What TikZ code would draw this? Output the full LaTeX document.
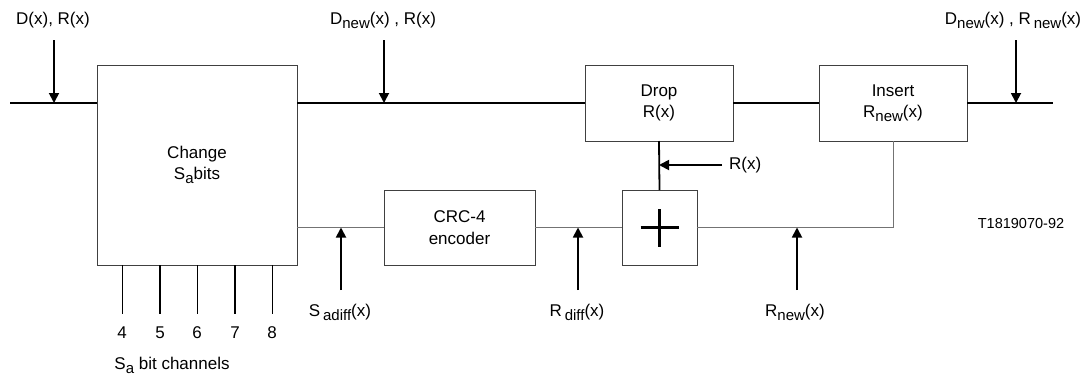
\documentclass[tikz,border=0pt]{standalone}
\usepackage{fontspec}
\setmainfont{Liberation Sans}
\usetikzlibrary{arrows.meta}
\newcommand\lowr[1]{\raisebox{-0.45ex}{\fontsize{15}{15}\selectfont #1}}
\begin{document}
\begin{tikzpicture}[x=1pt,y=-1pt,
    font=\fontsize{17}{21.5}\selectfont,
    blk/.style={draw=black!75,line width=0.9pt,inner sep=0pt,outer sep=0pt,align=center},
    mainln/.style={line width=1.8pt},
    thinln/.style={line width=0.9pt,black!55},
    sig/.style={line width=1.8pt,-{Triangle[length=10pt,width=10pt]}},
    lbl/.style={inner sep=0pt}]
    \useasboundingbox (0,0) rectangle (1089,376);
    % Blocks
    \node[blk,minimum width=200pt,minimum height=200pt] (change) at (197,165) {Change\\S\lowr{a}bits};
    \node[blk,minimum width=148pt,minimum height=76pt] (drop) at (659,103) {Drop\\R(x)};
    \node[blk,minimum width=148pt,minimum height=76pt] (insert) at (893,103) {Insert\\R\lowr{new}(x)};
    \node[blk,minimum width=151pt,minimum height=75pt] (crc) at (459.5,227.5) {CRC-4\\encoder};
    \node[blk,minimum width=75pt,minimum height=75pt] (plus) at (659.5,227.5) {};
    \draw[line width=3pt] ([xshift=-19pt]plus.center) -- ([xshift=19pt]plus.center)
        ([yshift=-19pt]plus.center) -- ([yshift=19pt]plus.center);
    % Main path
    \coordinate (in) at (10,103);
    \coordinate (out) at (1053,103);
    \draw[mainln] (in) -- (in -| change.west) (in -| change.east) -- (drop.west)
        (drop.east) -- (insert.west) (insert.east) -- (out);
    % Lower path
    \draw[thinln] (crc.west -| change.east) -- (crc.west) (crc.east) -- (plus.west)
        (plus.east) -| (insert.south);
    \draw[mainln] (drop.south) -- (plus.north);
    % Labels and arrows on main path
    \node[lbl] (dr) at (53,20) {D(x), R(x)};
    \coordinate (drtail) at (54,40);
    \draw[sig] (drtail) -- (drtail |- in);
    \node[lbl] (dnr) at (383,20) {D\lowr{new}(x) , R(x)};
    \coordinate (dnrtail) at (384,40);
    \draw[sig] (dnrtail) -- (dnrtail |- in);
    \node[lbl] (dnrn) at (1013,20) {D\lowr{new}(x) , R\,\lowr{new}(x)};
    \coordinate (dnrntail) at (1016,40);
    \draw[sig] (dnrntail) -- (dnrntail |- out);
    % R(x) into adder branch
    \node[lbl,anchor=west] (rx) at (729,165) {R(x)};
    \coordinate (rxtail) at (722,165);
    \draw[sig] (rxtail) -- (rxtail -| drop.south);
    % Labels and arrows on lower path
    \node[lbl] (sad) at (340,312) {S\,\lowr{adiff}(x)};
    \coordinate (sadtail) at (341,290);
    \draw[sig] (sadtail) -- (sadtail |- crc.west);
    \node[lbl] (rd) at (577,312) {R\,\lowr{diff}(x)};
    \coordinate (rdtail) at (578,290);
    \draw[sig] (rdtail) -- (rdtail |- crc.west);
    \node[lbl] (rn) at (795,312) {R\lowr{new}(x)};
    \coordinate (rntail) at (797,290);
    \draw[sig] (rntail) -- (rntail |- crc.west);
    % Sa bit channels
    \foreach \ch/\xx/\lw in {4/122/0.8,5/160/1.8,6/197/0.8,7/235/1.8,8/272/0.8} {
        \coordinate (c\ch) at (\xx,314);
        \draw[line width=\lw pt] (c\ch |- change.south) -- (c\ch);
        \node[lbl] (n\ch) at (\xx,333) {\ch};
    }
    \node[lbl] (sach) at (172,365) {S\lowr{a} bit channels};
    \node[lbl,font=\fontsize{14.5}{17}\selectfont] (fig) at (1021,223) {T1819070-92};
\end{tikzpicture}
\end{document}
